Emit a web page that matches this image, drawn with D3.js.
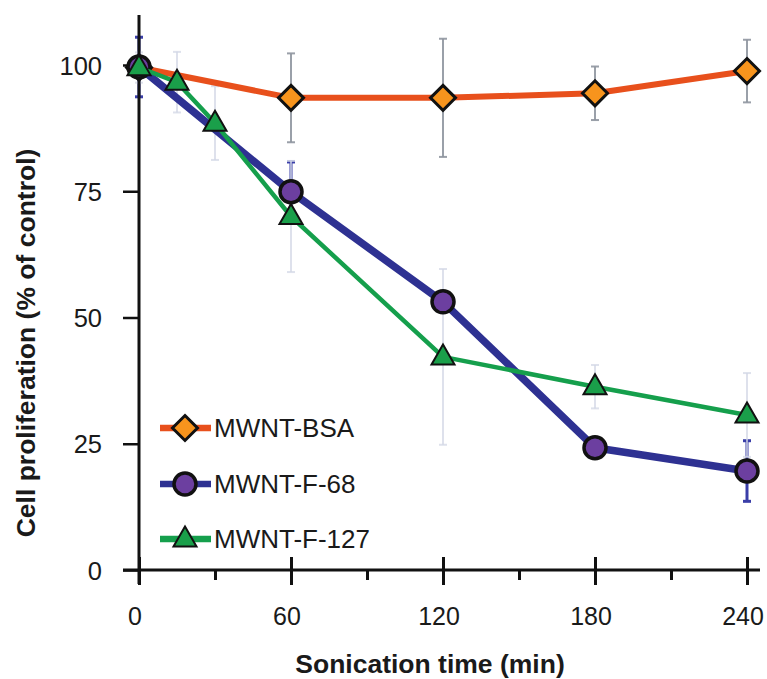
<!DOCTYPE html>
<html>
<head>
<meta charset="utf-8">
<script src="https://cdn.jsdelivr.net/npm/d3@7/dist/d3.min.js"></script>
<style>
  html, body { margin: 0; padding: 0; background: #fff; }
  svg { display: block; }
  text { font-family: "Liberation Sans", Arial, Helvetica, sans-serif; fill: #1a1a1a; }
</style>
</head>
<body>
<svg id="chart" width="767" height="679"></svg>
<script>
// ---- data ----
const xTicks = [0, 60, 120, 180, 240];
const xMinorTicks = [30, 90, 150, 210];
const yTicks = [0, 25, 50, 75, 100];

const bsaTimes = [0, 60, 120, 180, 240];
const bsaValues = [99.5, 93.5, 93.5, 94.4, 98.8];
const bsaErrors = [0, 8.8, 11.7, 5.3, 6.2];

const f68Times = [0, 60, 120, 180, 240];
const f68Values = [99.6, 74.9, 53.1, 24.2, 19.6];
const f68Errors = [5.9, 5.9, 0, 0, 6.0];

const f127Times = [0, 15, 30, 60, 120, 180, 240];
const f127Values = [99.5, 96.6, 88.5, 70.0, 42.2, 36.3, 30.7];
const f127Errors = [3, 6, 7.3, 11, 17.4, 4.3, 8.3];

const seriesNames = ["MWNT-BSA", "MWNT-F-68", "MWNT-F-127"];

// ---- layout ----
const svg = d3.select("#chart");
const x = d3.scaleLinear().domain([0, 240]).range([139, 747]);
const y = d3.scaleLinear().domain([0, 100]).range([570, 65]);

const series = [
  { name: seriesNames[0], times: bsaTimes, values: bsaValues, errors: bsaErrors,
    line: "#e8501c", lineW: 6, fill: "#f7941d", shape: "diamond", err: "#9096a0", errW: 2, errOp: 0.9 },
  { name: seriesNames[1], times: f68Times, values: f68Values, errors: f68Errors,
    line: "#2e3192", lineW: 7.5, fill: "#6c3fa0", shape: "circle", err: "#3a3ea8", errW: 3, errOp: 1 },
  { name: seriesNames[2], times: f127Times, values: f127Values, errors: f127Errors,
    line: "#159f4c", lineW: 4.5, fill: "#1a9f4a", shape: "triangle", err: "#d3d8e6", errW: 2, errOp: 0.75 }
];

function drawMarker(g, shape, cx, cy, fill) {
  if (shape === "diamond") {
    const s = 12.5;
    g.append("path")
      .attr("d", `M${cx},${cy - s}L${cx + s},${cy}L${cx},${cy + s}L${cx - s},${cy}Z`)
      .attr("fill", fill).attr("stroke", "#111").attr("stroke-width", 3);
  } else if (shape === "circle") {
    g.append("circle").attr("cx", cx).attr("cy", cy).attr("r", 11)
      .attr("fill", fill).attr("stroke", "#111").attr("stroke-width", 3.5);
  } else {
    const w = 23, h = 20;
    g.append("path")
      .attr("d", `M${cx},${cy - h * 0.62}L${cx + w / 2},${cy + h * 0.38}L${cx - w / 2},${cy + h * 0.38}Z`)
      .attr("fill", fill).attr("stroke", "#111").attr("stroke-width", 2)
      .attr("stroke-linejoin", "miter");
  }
}

// ---- error bars ----
const errG = svg.append("g");
series.forEach(s => {
  s.times.forEach((t, i) => {
    const e = s.errors[i];
    if (!e) return;
    const cx = x(t), y1 = y(s.values[i] + e), y2 = y(s.values[i] - e);
    errG.append("line").attr("x1", cx).attr("x2", cx).attr("y1", y1).attr("y2", y2)
      .attr("stroke", s.err).attr("stroke-width", s.errW).attr("opacity", s.errOp);
    [y1, y2].forEach(yy => errG.append("line")
      .attr("x1", cx - 4).attr("x2", cx + 4).attr("y1", yy).attr("y2", yy)
      .attr("stroke", s.err).attr("stroke-width", s.errW).attr("opacity", s.errOp));
  });
});

// ---- axes ----
const yAxis = d3.axisLeft(y).tickValues(yTicks).tickSize(16).tickPadding(20).tickFormat(d3.format("d"));
const yG = svg.append("g").attr("transform", "translate(139,0)").call(yAxis);
yG.select(".domain").remove();
yG.selectAll(".tick line").attr("stroke", "#111").attr("stroke-width", 2.5);
yG.selectAll(".tick text").attr("font-size", 25.5).attr("x", -37).attr("dy", "0.36em")
  .style("font-family", "'Liberation Sans', Arial, sans-serif").attr("fill", "#1a1a1a");

const xAxis = d3.axisBottom(x).tickValues(xTicks).tickSize(15).tickPadding(22).tickFormat(d3.format("d"));
const xG = svg.append("g").attr("transform", "translate(0,570)").call(xAxis);
xG.select(".domain").remove();
xG.selectAll(".tick line").attr("y1", -13).attr("stroke", "#111").attr("stroke-width", 3);
xG.selectAll(".tick text").attr("font-size", 25).attr("x", -4.5)
  .style("font-family", "'Liberation Sans', Arial, sans-serif").attr("fill", "#1a1a1a");

const xMinor = d3.axisBottom(x).tickValues(xMinorTicks).tickSize(10).tickFormat("");
const xmG = svg.append("g").attr("transform", "translate(0,570)").call(xMinor);
xmG.select(".domain").remove();
xmG.selectAll(".tick line").attr("stroke", "#111").attr("stroke-width", 3);

// axis lines
svg.append("line").attr("x1", 123).attr("x2", 760).attr("y1", y(0)).attr("y2", y(0))
  .attr("stroke", "#111").attr("stroke-width", 3);
svg.append("line").attr("x1", x(0)).attr("x2", x(0)).attr("y1", 15).attr("y2", 584)
  .attr("stroke", "#111").attr("stroke-width", 3);

// ---- lines and markers ----
series.forEach(s => {
  const pts = s.times.map((t, i) => [t, s.values[i]]);
  const line = d3.line().x(d => x(d[0])).y(d => y(d[1]));
  svg.append("path").attr("d", line(pts)).attr("fill", "none")
    .attr("stroke", s.line).attr("stroke-width", s.lineW).attr("stroke-linejoin", "round");
  const mg = svg.append("g");
  pts.forEach(d => drawMarker(mg, s.shape, x(d[0]), y(d[1]), s.fill));
});

// ---- legend ----
const legendY = [428, 484, 539];
series.forEach((s, i) => {
  const g = svg.append("g");
  const ly = legendY[i];
  g.append("line").attr("x1", 160).attr("x2", 211).attr("y1", ly).attr("y2", ly)
    .attr("stroke", s.line).attr("stroke-width", 6.5);
  drawMarker(g, s.shape, 185, ly, s.fill);
  g.append("text").attr("x", 214).attr("y", ly).attr("dy", "0.36em")
    .attr("font-size", 26).text(s.name);
});

// ---- axis titles ----
svg.append("text").attr("x", 430).attr("y", 673).attr("text-anchor", "middle")
  .attr("font-size", 26.5).attr("font-weight", "bold").text("Sonication time (min)");
svg.append("text").attr("transform", "translate(35,343) rotate(-90)").attr("text-anchor", "middle")
  .attr("font-size", 26.5).attr("font-weight", "bold").text("Cell proliferation (% of control)");
</script>
</body>
</html>
